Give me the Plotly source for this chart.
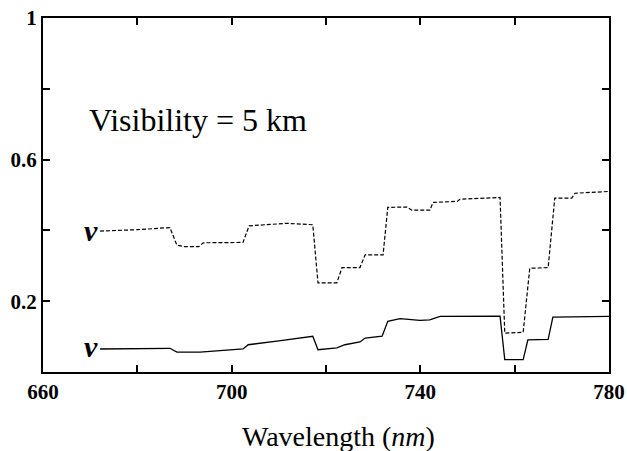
import plotly.graph_objects as go

# Upper (dashed) curve
wl_dash = [672.1, 680, 686.9, 688.4, 690, 693, 694, 702.4, 703.7, 711.7, 717.2, 718.3, 722.3, 723.4,
           727.2, 728.3, 732.1, 733.1, 737.2, 738.2, 742.0, 742.7, 747.8, 748.4, 756.9, 757.9, 761.8,
           763.2, 767.1, 768.5, 772.1, 772.8, 780]
val_dash = [0.398, 0.402, 0.408, 0.358, 0.354, 0.354, 0.365, 0.366, 0.413, 0.420, 0.416, 0.252, 0.252,
            0.295, 0.295, 0.331, 0.331, 0.465, 0.466, 0.457, 0.457, 0.479, 0.482, 0.488, 0.493, 0.110,
            0.112, 0.293, 0.295, 0.491, 0.491, 0.505, 0.510]

# Lower (solid) curve
wl_solid = [672.1, 686.9, 688.4, 693.3, 702.4, 703.5, 710, 717.2, 718.3, 722.3, 724, 727.2, 728.3,
            731.9, 733.1, 735.7, 739.9, 742, 744.2, 756.9, 757.9, 761.8, 762.8, 767.1, 768.1, 780]
val_solid = [0.065, 0.067, 0.056, 0.056, 0.065, 0.077, 0.088, 0.101, 0.063, 0.068, 0.077, 0.085, 0.096,
             0.101, 0.143, 0.151, 0.146, 0.147, 0.157, 0.158, 0.035, 0.035, 0.091, 0.092, 0.155, 0.157]

x_ticks = [660, 680, 700, 720, 740, 760, 780]
x_labels = ["660", "", "700", "", "740", "", "780"]
y_ticks = [0, 0.2, 0.4, 0.6, 0.8, 1.0]
y_labels = ["", "0.2", "", "0.6", "", "1"]

serif = "Liberation Serif, Times New Roman, serif"

fig = go.Figure()
fig.add_trace(go.Scatter(x=wl_dash, y=val_dash, mode="lines",
                         line=dict(color="black", width=1.2, dash="4px,2px")))
fig.add_trace(go.Scatter(x=wl_solid, y=val_solid, mode="lines",
                         line=dict(color="black", width=1.3)))

fig.add_annotation(x=670.2, y=0.399, text="<b><i>v</i></b>", showarrow=False,
                   font=dict(family=serif, size=30, color="black"))
fig.add_annotation(x=670.2, y=0.072, text="<b><i>v</i></b>", showarrow=False,
                   font=dict(family=serif, size=30, color="black"))
fig.add_annotation(x=(87 - 43) / 566, y=(372 - 120) / 354, xref="x domain", yref="y domain",
                   text="Visibility = 5 km", showarrow=False, xanchor="left", yanchor="middle",
                   font=dict(family=serif, size=32, color="black"))
# x-axis title, placed as in the reference (slightly right of centre)
fig.add_annotation(x=(338 - 43) / 566, y=(372 - 436) / 354, xref="paper", yref="paper",
                   text="Wavelength (<i>nm</i>)", showarrow=False, xanchor="center", yanchor="middle",
                   font=dict(family=serif, size=28, color="black"))

fig.update_xaxes(range=[660, 780], tickvals=x_ticks, ticktext=x_labels, ticks="inside", ticklen=7,
                 tickwidth=2, tickcolor="black", showline=True, linecolor="black", linewidth=2,
                 mirror="ticks", showgrid=False, zeroline=False, automargin=False,
                 tickfont=dict(family=serif, size=21, color="black", weight="bold"))
fig.update_yaxes(range=[0, 1], tickvals=y_ticks, ticktext=y_labels, ticks="inside", ticklen=7,
                 tickwidth=2, tickcolor="black", showline=True, linecolor="black", linewidth=2,
                 mirror="ticks", showgrid=False, zeroline=False, automargin=False,
                 tickfont=dict(family=serif, size=21, color="black", weight="bold"))

fig.update_layout(width=627, height=451, margin=dict(l=43, r=18, t=18, b=79),
                  plot_bgcolor="white", paper_bgcolor="white", showlegend=False)

fig.write_html("out.html")
